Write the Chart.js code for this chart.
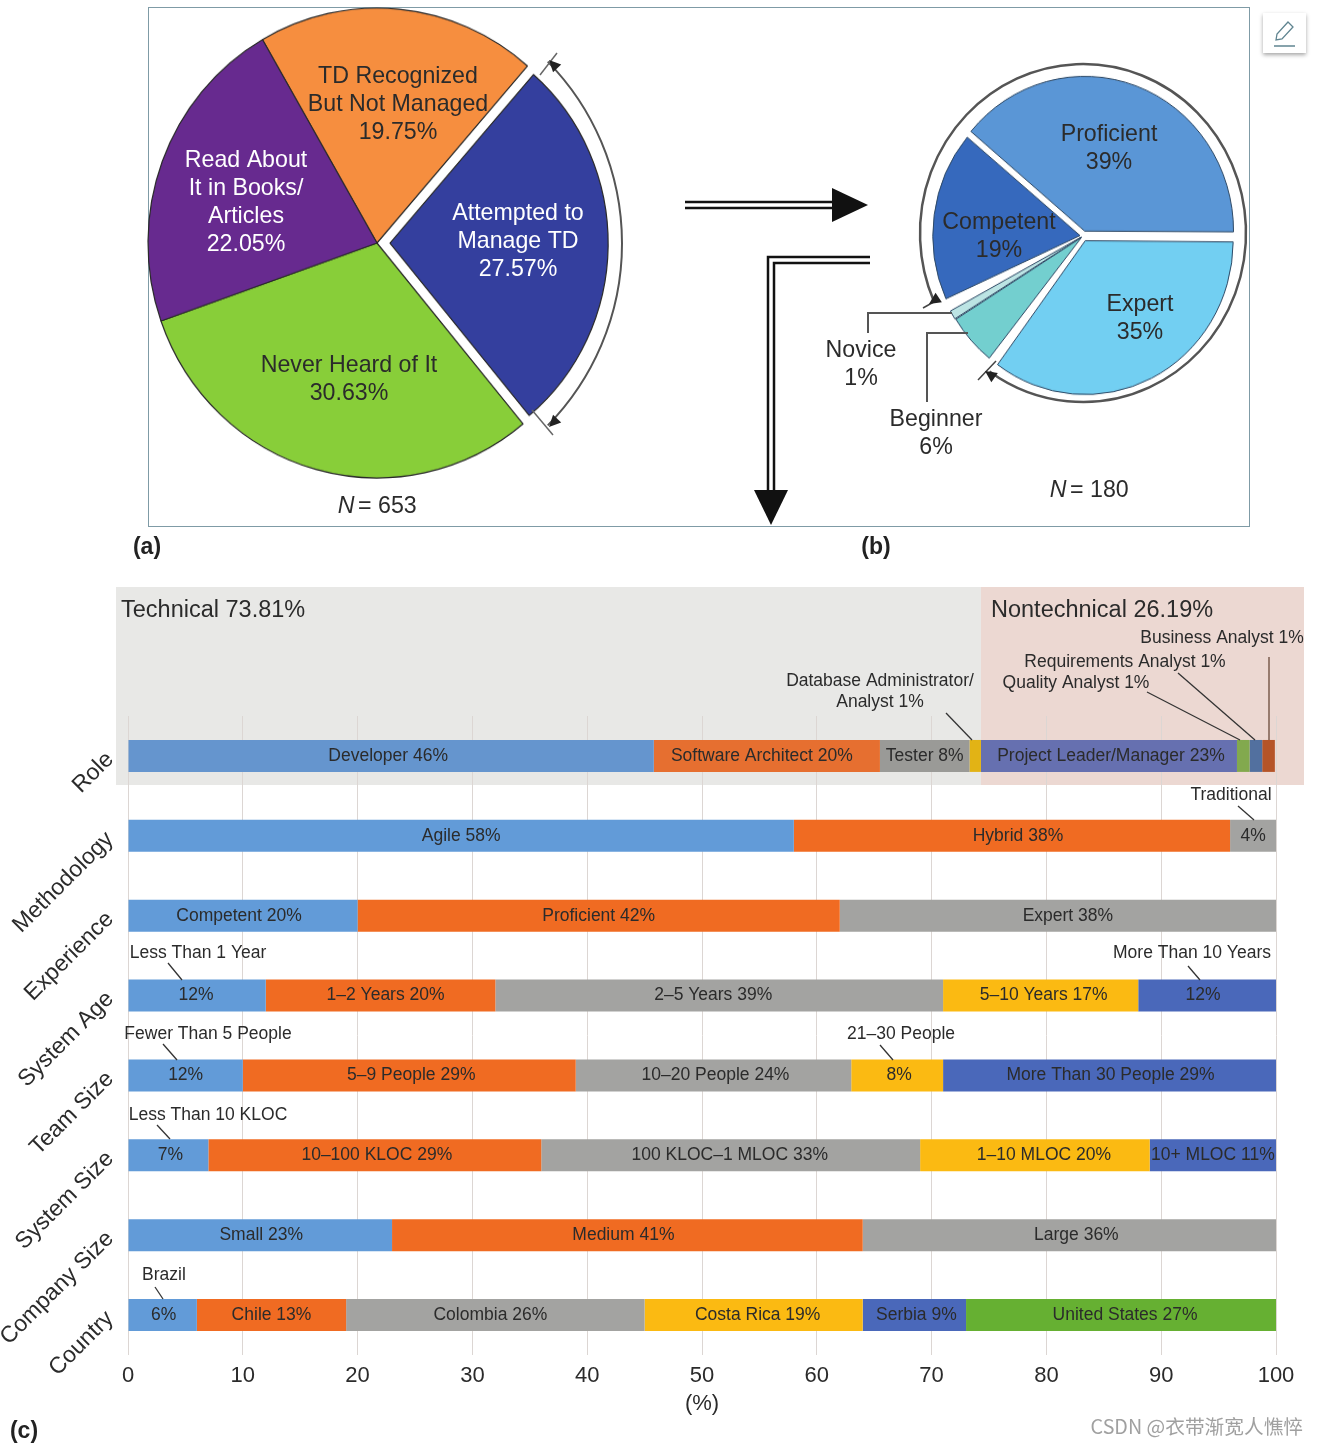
<!DOCTYPE html>
<html>
<head>
<meta charset="utf-8">
<title>Technical debt survey</title>
<script src="https://cdn.jsdelivr.net/npm/chart.js@4/dist/chart.umd.min.js"></script>
<style>
  body { margin: 0; background: #fff; }
  canvas { position: absolute; left: 0; top: 0; }
  #frame { position: absolute; left: 148px; top: 7px; width: 1100px; height: 518px; border: 1px solid #7f9ba6; box-sizing: content-box; }
  #edit { position: absolute; left: 1263px; top: 13px; width: 43px; height: 40px; background: #fff; box-shadow: 0 2px 4px rgba(0,0,0,.35); }
  #pieA { transform-origin: 377px 243px; transform: scaleY(1.026); }
  #pieB { transform-origin: 1083px 236px; transform: scaleY(1.04); }
</style>
</head>
<body>
<div id="frame"></div>
<div id="edit">
  <svg width="43" height="40" viewBox="0 0 43 40">
    <path d="M13 27 L14 21 L25 9 L30 14 L19 26 Z" fill="none" stroke="#5f8490" stroke-width="1.3"/>
    <line x1="11" y1="33" x2="32" y2="33" stroke="#5f8490" stroke-width="1.5"/>
  </svg>
</div>
<canvas id="bars" width="1318" height="1447"></canvas>
<canvas id="pieB" width="1318" height="560"></canvas>
<canvas id="pieA" width="1318" height="560"></canvas>
<canvas id="notes" width="1318" height="560"></canvas>
<script>
// panel (a)
const awarenessLabels = ['TD Recognized But Not Managed', 'Attempted to Manage TD', 'Never Heard of It', 'Read About It in Books/Articles'];
const awarenessValues = [19.75, 27.57, 30.63, 22.05];
const awarenessColors = ['#F68E3F', '#343F9E', '#88CE39', '#672A8F'];

// panel (b)
const skillLabels = ['Proficient', 'Expert', 'Beginner', 'Novice', 'Competent'];
const skillValues = [39, 35, 6, 1, 19];
const skillColors = ['#5A96D6', '#72CFF2', '#73CFCF', '#BCE4E4', '#3669BD'];

// panel (c)
const categories = ['Role', 'Methodology', 'Experience', 'System Age', 'Team Size', 'System Size', 'Company Size', 'Country'];
const roleValues = [45.8, 19.7, 7.8, 1, 22.3, 1.1, 1.1, 1.1];
const methodologyValues = [58, 38, 4];
const experienceValues = [20, 42, 38];
const systemAgeValues = [12, 20, 39, 17, 12];
const teamSizeValues = [10, 29, 24, 8, 29];
const systemSizeValues = [7, 29, 33, 20, 11];
const companySizeValues = [23, 41, 36];
const countryValues = [6, 13, 26, 19, 9, 27];

const roleNames = ['Developer 46%', 'Software Architect 20%', 'Tester 8%', '', 'Project Leader/Manager 23%', '', '', ''];
const methodologyNames = ['Agile 58%', 'Hybrid 38%', '4%'];
const experienceNames = ['Competent 20%', 'Proficient 42%', 'Expert 38%'];
const systemAgeNames = ['12%', '1–2 Years 20%', '2–5 Years 39%', '5–10 Years 17%', '12%'];
const teamSizeNames = ['12%', '5–9 People 29%', '10–20 People 24%', '8%', 'More Than 30 People 29%'];
const systemSizeNames = ['7%', '10–100 KLOC 29%', '100 KLOC–1 MLOC 33%', '1–10 MLOC 20%', '10+ MLOC 11%'];
const companySizeNames = ['Small 23%', 'Medium 41%', 'Large 36%'];
const countryNames = ['6%', 'Chile 13%', 'Colombia 26%', 'Costa Rica 19%', 'Serbia 9%', 'United States 27%'];

const segmentColors = ['#629BD8', '#F06B22', '#A3A3A1', '#FBBA12', '#4A68BA', '#66B032', '#000', '#000'];
const roleColors = ['#6595CE', '#E66F30', '#9A9A97', '#E2B315', '#6670B0', '#82A94E', '#52709F', '#B55428'];
const technicalShare = 74.3;

const valueRows = [roleValues, methodologyValues, experienceValues, systemAgeValues, teamSizeValues, systemSizeValues, companySizeValues, countryValues];
const nameRows = [roleNames, methodologyNames, experienceNames, systemAgeNames, teamSizeNames, systemSizeNames, companySizeNames, countryNames];
// the printed labels are not quite centred in their segments
const nameShift = [[-3, -5, 0, 0, 2], [0, 6, 0], [-4, 0, 10], [-1, 5, -6, 3, -4], [0, 2, 2, 2, 1], [2, 2, -1, 9, 0], [1, -4, 7], [1, 0, -5, 4, 2, 4]];

Chart.defaults.font.family = '"Liberation Sans", Arial, sans-serif';
Chart.defaults.animation = false;

function put(ctx, text, x, y, size, color, align, weight) {
  ctx.font = (weight || '') + ' ' + size + 'px "Liberation Sans", Arial, sans-serif';
  ctx.fillStyle = color || '#2b2b2b';
  ctx.textAlign = align || 'center';
  ctx.textBaseline = 'middle';
  ctx.fillText(text, x, y);
}

function stroke(ctx, points, color, width) {
  ctx.beginPath();
  points.forEach((p, i) => i ? ctx.lineTo(p[0], p[1]) : ctx.moveTo(p[0], p[1]));
  ctx.strokeStyle = color;
  ctx.lineWidth = width;
  ctx.stroke();
}

function fillTriangle(ctx, a, b, c, color) {
  ctx.beginPath();
  ctx.moveTo(a[0], a[1]);
  ctx.lineTo(b[0], b[1]);
  ctx.lineTo(c[0], c[1]);
  ctx.closePath();
  ctx.fillStyle = color;
  ctx.fill();
}

function arrowHead(ctx, x, y, angle, size) {
  const back = a => [x - Math.cos(angle + a) * size, y - Math.sin(angle + a) * size];
  fillTriangle(ctx, [x, y], back(0.45), back(-0.45), '#222');
}

// the blue slice of (a) is drawn a bit smaller than the rest
const shrinkSlice = {
  id: 'shrinkSlice',
  afterDatasetsUpdate(chart) {
    chart.getDatasetMeta(0).data[1].outerRadius = 218;
  }
};

// white gaps round the two small slices of (b)
const openGaps = {
  id: 'openGaps',
  afterDatasetsUpdate(chart) {
    const slices = chart.getDatasetMeta(0).data;
    slices[2].startAngle += 2 * Math.PI / 180;
    slices[4].startAngle += 4 * Math.PI / 180;
  }
};

const topLabels = [
  ['TD Recognized', 398, 77, 23.2], ['But Not Managed', 398, 105, 23.2], ['19.75%', 398, 133, 23.2],
  ['Read About', 246, 161, 23.2, '#fff'], ['It in Books/', 246, 189, 23.2, '#fff'], ['Articles', 246, 217, 23.2, '#fff'], ['22.05%', 246, 245, 23.2, '#fff'],
  ['Attempted to', 518, 214, 23.2, '#fff'], ['Manage TD', 518, 242, 23.2, '#fff'], ['27.57%', 518, 270, 23.2, '#fff'],
  ['Never Heard of It', 349, 366, 23.2], ['30.63%', 349, 394, 23.2],
  ['Proficient', 1109, 135, 23.2], ['39%', 1109, 163, 23.2],
  ['Competent', 999, 223, 23.2], ['19%', 999, 251, 23.2],
  ['Expert', 1140, 305, 23.2], ['35%', 1140, 333, 23.2],
  ['Novice', 861, 351, 23.2], ['1%', 861, 379, 23.2],
  ['Beginner', 936, 420, 23.2], ['6%', 936, 448, 23.2],
  ['= 653', 358, 507, 23.2, '#2b2b2b', 'left'], ['= 180', 1070, 491, 23.2, '#2b2b2b', 'left'],
  ['(a)', 147, 548, 23, '#222', 'center', 'bold'], ['(b)', 876, 548, 23, '#222', 'center', 'bold']
];

new Chart(document.getElementById('pieB').getContext('2d'), {
  type: 'pie',
  data: {
    labels: skillLabels,
    datasets: [{
      data: skillValues,
      backgroundColor: skillColors,
      borderColor: '#2f4a66',
      borderWidth: 1,
      offset: [20, 20, 8, 8, 12]
    }]
  },
  options: {
    responsive: false,
    rotation: -50,
    radius: 147,
    layout: { padding: { left: 848, bottom: 88 } },
    plugins: { legend: { display: false }, tooltip: { enabled: false } }
  },
  plugins: [openGaps]
});

new Chart(document.getElementById('pieA').getContext('2d'), {
  type: 'pie',
  data: {
    labels: awarenessLabels,
    datasets: [{
      data: awarenessValues,
      backgroundColor: awarenessColors,
      borderColor: '#2a2a2a',
      borderWidth: 1.2,
      offset: [0, 52, 0, 0]
    }]
  },
  options: {
    responsive: false,
    rotation: -30,
    radius: 229,
    layout: { padding: { right: 564, bottom: 74 } },
    plugins: { legend: { display: false }, tooltip: { enabled: false } }
  },
  plugins: [shrinkSlice]
});

// text, brackets and flow arrows of the two upper panels
const notes = document.getElementById('notes').getContext('2d');
topLabels.forEach(t => put(notes, t[0], t[1], t[2], t[3], t[4], t[5], t[6]));
put(notes, 'N', 346, 507, 23.2, '#2b2b2b', 'center', 'italic');
put(notes, 'N', 1058, 491, 23.2, '#2b2b2b', 'center', 'italic');

notes.beginPath();
notes.arc(362, 243.5, 260, -44.4 * Math.PI / 180, 44.4 * Math.PI / 180);
notes.strokeStyle = '#555';
notes.lineWidth = 2;
notes.stroke();
stroke(notes, [[557, 53], [540, 75]], '#666', 1.5);
stroke(notes, [[532, 410], [553, 435]], '#666', 1.5);
arrowHead(notes, 549, 60, -134 * Math.PI / 180, 13);
arrowHead(notes, 549, 427, 134 * Math.PI / 180, 13);

notes.beginPath();
notes.ellipse(1083, 233, 163, 169, 0, 156 * Math.PI / 180, (360 + 125) * Math.PI / 180);
notes.strokeStyle = '#555';
notes.lineWidth = 2.5;
notes.stroke();
stroke(notes, [[923, 308], [939, 299]], '#444', 1.5);
stroke(notes, [[978, 380], [996, 361]], '#444', 1.5);
arrowHead(notes, 929, 304, 146 * Math.PI / 180, 13);
arrowHead(notes, 985, 371, -145 * Math.PI / 180, 13);

stroke(notes, [[868, 333], [868, 313], [952, 313]], '#555', 2);
stroke(notes, [[927, 402], [927, 333], [968, 333]], '#555', 2);

stroke(notes, [[685, 202], [835, 202]], '#111', 2.5);
stroke(notes, [[685, 208], [835, 208]], '#111', 2.5);
fillTriangle(notes, [832, 188], [868, 205], [832, 222], '#111');
stroke(notes, [[870, 257], [768, 257], [768, 492]], '#111', 2.5);
stroke(notes, [[870, 263], [774, 263], [774, 492]], '#111', 2.5);
fillTriangle(notes, [754, 490], [771, 525], [788, 490], '#111');

const callouts = [
  ['Business Analyst 1%', 1222, 638, [[1269, 657], [1269, 740]]],
  ['Requirements Analyst 1%', 1125, 662, [[1178, 673], [1255, 740]]],
  ['Quality Analyst 1%', 1076, 683, [[1147, 692], [1240, 740]]],
  ['Database Administrator/', 880, 681, [[946, 713], [972, 740]]],
  ['Analyst 1%', 880, 702, null],
  ['Traditional', 1231, 795, [[1238, 806], [1254, 820]]],
  ['Less Than 1 Year', 198, 953, [[168, 963], [182, 980]]],
  ['More Than 10 Years', 1192, 953, [[1188, 966], [1200, 980]]],
  ['Fewer Than 5 People', 208, 1034, [[163, 1044], [177, 1060]]],
  ['21–30 People', 901, 1034, [[880, 1045], [893, 1060]]],
  ['Less Than 10 KLOC', 208, 1115, [[157, 1125], [170, 1139]]],
  ['Brazil', 164, 1275, [[155, 1287], [163, 1299]]]
];

const roleBands = {
  id: 'roleBands',
  beforeDraw(chart) {
    const ctx = chart.ctx;
    const split = chart.scales.x.getPixelForValue(technicalShare);
    ctx.save();
    ctx.fillStyle = '#E8E8E6';
    ctx.fillRect(116, 587, split - 116, 198);
    ctx.fillStyle = '#ECD8D2';
    ctx.fillRect(split, 587, 1304 - split, 198);
    ctx.restore();
  }
};

const barText = {
  id: 'barText',
  afterDatasetsDraw(chart) {
    const ctx = chart.ctx;
    ctx.save();
    chart.data.datasets.forEach((set, i) => {
      chart.getDatasetMeta(i).data.forEach((bar, row) => {
        const name = nameRows[row][i];
        if (name) put(ctx, name, (bar.base + bar.x) / 2 + (nameShift[row][i] || 0), bar.y, 17.5);
      });
    });
    callouts.forEach(c => {
      put(ctx, c[0], c[1], c[2], 17.5);
      if (c[3]) stroke(ctx, c[3], c[0] === 'Business Analyst 1%' ? '#6a4a3a' : '#333', 1.3);
    });
    put(ctx, 'Technical 73.81%', 121, 611, 23.5, '#2b2b2b', 'left');
    put(ctx, 'Nontechnical 26.19%', 991, 611, 23.5, '#2b2b2b', 'left');
    put(ctx, '(c)', 24, 1432, 23, '#222', 'center', 'bold');
    ctx.font = '19.7px "Noto Sans CJK SC"';
    ctx.fillStyle = '#a0a0a0';
    ctx.textAlign = 'right';
    ctx.fillText('CSDN @衣带渐宽人憔悴', 1303, 1427);
    ctx.restore();
  }
};

const barSets = segmentColors.map((color, i) => ({
  label: 'segment ' + (i + 1),
  data: valueRows.map(row => row[i] || 0),
  backgroundColor: categories.map((c, row) => row === 0 ? roleColors[i] : color),
  categoryPercentage: 1,
  barPercentage: 0.4
}));

new Chart(document.getElementById('bars').getContext('2d'), {
  type: 'bar',
  data: { labels: categories, datasets: barSets },
  options: {
    indexAxis: 'y',
    responsive: false,
    layout: { padding: { left: 0, right: 42, top: 716, bottom: 30 } },
    scales: {
      x: {
        stacked: true,
        min: 0,
        max: 100,
        afterFit(scale) { scale.height = 62; },
        border: { display: false },
        grid: { color: '#DCD6D3', drawTicks: false },
        ticks: { stepSize: 10, color: '#2b2b2b', font: { size: 22 }, padding: 8, maxRotation: 0 },
        title: { display: true, text: '(%)', color: '#2b2b2b', font: { size: 22 }, padding: 0 }
      },
      y: {
        stacked: true,
        afterFit(scale) { scale.width = 128; },
        border: { display: false },
        grid: { display: false },
        ticks: { color: '#2b2b2b', font: { size: 23 }, padding: 10, minRotation: 45, maxRotation: 45 }
      }
    },
    plugins: { legend: { display: false }, tooltip: { enabled: false } }
  },
  plugins: [roleBands, barText]
});
</script>
</body>
</html>
